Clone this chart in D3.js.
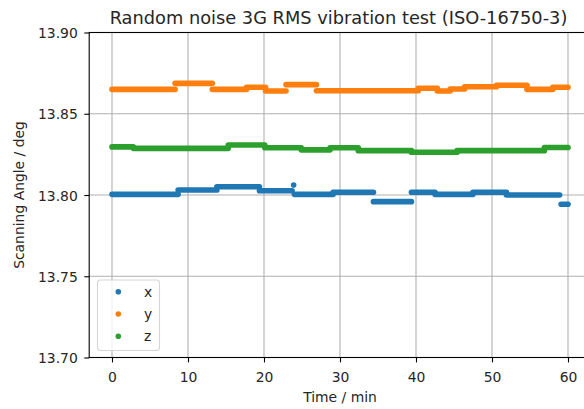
<!DOCTYPE html>
<html>
<head>
<meta charset="utf-8">
<script src="https://cdn.jsdelivr.net/npm/d3@7"></script>
<style>
  body { margin: 0; background: #fff; }
  svg { display: block; font-family: 'DejaVu Sans', sans-serif; }
</style>
</head>
<body>
<div id="chart"></div>
<script>
// step levels: [start min, end min, angle deg]
const xSteps = [
  [0, 8.7, 13.8004], [8.7, 13.8, 13.8031], [13.8, 19.4, 13.8051],
  [19.4, 23.7, 13.8026], [23.9, 23.9, 13.8062], [24.0, 29.1, 13.8004],
  [29.1, 34.4, 13.8017], [34.4, 39.4, 13.7959], [39.4, 42.5, 13.8017],
  [42.5, 47.5, 13.8004], [47.5, 51.9, 13.8017], [51.9, 58.9, 13.8000],
  [59.1, 60, 13.7943],
]
const ySteps = [
  [0, 8.3, 13.8650], [8.3, 13.2, 13.8687], [13.2, 17.7, 13.8650],
  [17.7, 20.2, 13.8663], [20.2, 22.9, 13.8640], [22.9, 26.9, 13.8679],
  [26.9, 40.3, 13.8642], [40.3, 42.8, 13.8657], [42.8, 44.5, 13.8640],
  [44.5, 46.4, 13.8652], [46.4, 50.6, 13.8666], [50.6, 54.6, 13.8675],
  [54.6, 58.0, 13.8650], [58.0, 60, 13.8663],
]
const zSteps = [
  [0, 2.8, 13.8296], [2.8, 15.3, 13.8287], [15.3, 20.1, 13.8308],
  [20.1, 24.9, 13.8291], [24.9, 28.7, 13.8278], [28.7, 32.4, 13.8291],
  [32.4, 39.4, 13.8273], [39.4, 45.4, 13.8263], [45.4, 56.9, 13.8273],
  [56.9, 60, 13.8292],
]

const seriesNames = ['x', 'y', 'z']
const seriesColors = ['#1f77b4', '#ff7f0e', '#2ca02c']
const xTicks = [0, 10, 20, 30, 40, 50, 60]
const yTicks = [13.70, 13.75, 13.80, 13.85, 13.90]

const titleText = 'Random noise 3G RMS vibration test (ISO-16750-3)'
const xLabel = 'Time / min'
const yLabel = 'Scanning Angle / deg'

const width = 584
const height = 409
const margin = { top: 32.5, left: 89.2, right: 590.8, bottom: 357.5 }
const fontSize = 13.9
const dotRadius = 2.8

const svg = d3.select('#chart')
  .append('svg')
  .attr('width', width)
  .attr('height', height)

const xScale = d3.scaleLinear().domain([-3, 63]).range([margin.left, margin.right])
const yScale = d3.scaleLinear().domain([13.70, 13.90]).range([margin.bottom, margin.top])

// grid
const grid = svg.append('g').attr('stroke', '#b0b0b0').attr('stroke-width', 1.1)
grid.selectAll('.gx')
  .data(xTicks)
  .join('line')
  .attr('x1', d => xScale(d)).attr('x2', d => xScale(d))
  .attr('y1', margin.top).attr('y2', margin.bottom)
grid.selectAll('.gy')
  .data(yTicks)
  .join('line')
  .attr('x1', margin.left).attr('x2', margin.right)
  .attr('y1', d => yScale(d)).attr('y2', d => yScale(d))

// series: each constant level is a run of dots, drawn as a round-capped band
const allSteps = [xSteps, ySteps, zSteps]
allSteps.forEach((steps, i) => {
  svg.append('g')
    .selectAll('line')
    .data(steps)
    .join('line')
    .attr('x1', d => xScale(d[0]))
    .attr('x2', d => xScale(d[1]))
    .attr('y1', d => yScale(d[2]))
    .attr('y2', d => yScale(d[2]))
    .attr('stroke', seriesColors[i])
    .attr('stroke-width', dotRadius * 2)
    .attr('stroke-linecap', 'round')
})

// axes
const xAxis = d3.axisBottom(xScale).tickValues(xTicks).tickSize(4.9).tickPadding(4.9)
const yAxis = d3.axisLeft(yScale).tickValues(yTicks).tickSize(4.9).tickPadding(6.5)
  .tickFormat(d3.format('.2f'))

const gx = svg.append('g')
  .attr('transform', `translate(0,${margin.bottom})`)
  .call(xAxis)
const gy = svg.append('g')
  .attr('transform', `translate(${margin.left},0)`)
  .call(yAxis)

;[gx, gy].forEach(g => {
  g.select('.domain').remove()
  g.selectAll('line').attr('stroke', '#000').attr('stroke-width', 1.1)
  g.selectAll('text')
    .attr('fill', '#262626')
    .style('font-size', `${fontSize}px`)
    .style('font-family', 'DejaVu Sans')
})
gx.selectAll('text').attr('dy', null).attr('y', 24.5)
gy.selectAll('text').attr('dy', '0.36em')

// spines
svg.append('rect')
  .attr('x', margin.left).attr('y', margin.top)
  .attr('width', margin.right - margin.left)
  .attr('height', margin.bottom - margin.top)
  .attr('fill', 'none')
  .attr('stroke', '#000')
  .attr('stroke-width', 1.1)

// texts
svg.append('text')
  .attr('x', 338.5)
  .attr('y', 24.3)
  .attr('text-anchor', 'middle')
  .attr('fill', '#262626')
  .style('font-size', '17.8px')
  .text(titleText)

svg.append('text')
  .attr('x', (margin.left + margin.right) / 2)
  .attr('y', 402)
  .attr('text-anchor', 'middle')
  .attr('fill', '#262626')
  .style('font-size', `${fontSize}px`)
  .text(xLabel)

svg.append('text')
  .attr('transform', `translate(23.5,${(margin.top + margin.bottom) / 2}) rotate(-90)`)
  .attr('text-anchor', 'middle')
  .attr('fill', '#262626')
  .style('font-size', `${fontSize}px`)
  .text(yLabel)

// legend
const legend = svg.append('g').attr('transform', 'translate(97.5,280)')
legend.append('rect')
  .attr('width', 62)
  .attr('height', 70.5)
  .attr('rx', 3)
  .attr('fill', 'rgba(255,255,255,0.8)')
  .attr('stroke', '#d6d6d6')
  .attr('stroke-width', 1.1)

const entries = legend.selectAll('.entry')
  .data(seriesNames)
  .join('g')
  .attr('transform', (d, i) => `translate(0,${11.7 + i * 22.3})`)
entries.append('circle')
  .attr('cx', 20.8)
  .attr('r', dotRadius)
  .attr('fill', (d, i) => seriesColors[i])
entries.append('text')
  .attr('x', 46.5)
  .attr('dy', '0.36em')
  .attr('fill', '#262626')
  .style('font-size', `${fontSize}px`)
  .text(d => d)
</script>
</body>
</html>
